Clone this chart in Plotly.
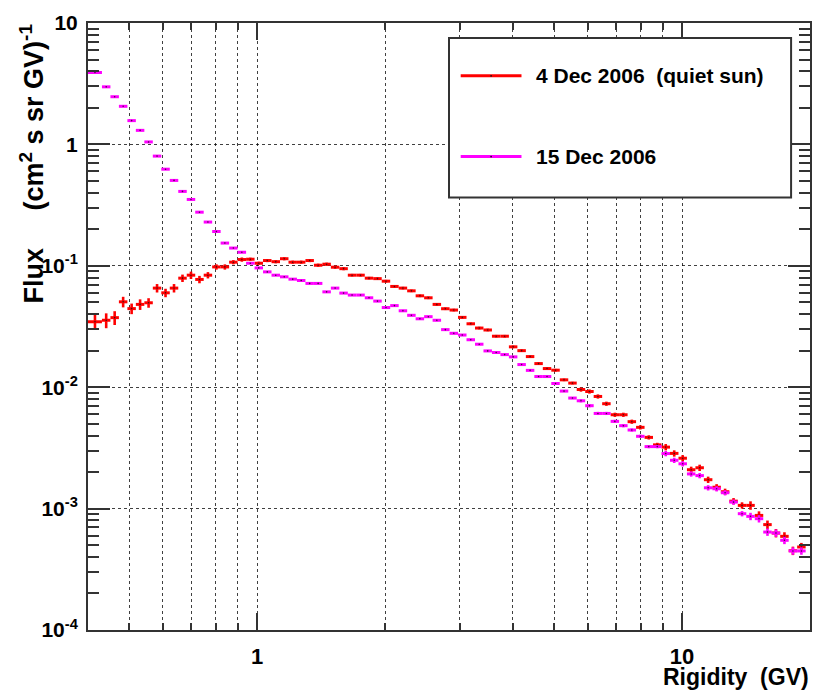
import math
import plotly.graph_objects as go

# ---------------- data ----------------
# rigidity bin edges (GV), first bin starts at the axis edge
RIGIDITY_EDGES_GV = [
    0.40, 0.4314, 0.4517, 0.4729, 0.4952, 0.5184, 0.5428, 0.5683, 0.5950, 0.6230,
    0.6523, 0.6830, 0.7151, 0.7487, 0.7839, 0.8207, 0.8593, 0.8997, 0.9420, 0.9863,
    1.0326, 1.0812, 1.1320, 1.1852, 1.2409, 1.2993, 1.3603, 1.4243, 1.4912, 1.5614,
    1.6347, 1.7116, 1.7920, 1.8763, 1.9645, 2.0569, 2.1535, 2.2547, 2.3607, 2.4717,
    2.5880, 2.7096, 2.8370, 2.9703, 3.1099, 3.2561, 3.4092, 3.5695, 3.7373, 3.9129,
    4.0968, 4.2894, 4.4911, 4.7022, 4.9232, 5.1546, 5.3970, 5.6506, 5.9163, 6.1944,
    6.4855, 6.7905, 7.1097, 7.4438, 7.7938, 8.1602, 8.5437, 8.9454, 9.3658, 9.8062,
    10.267, 10.750, 11.255, 11.785, 12.338, 12.918, 13.525, 14.161, 14.827, 15.524,
    16.253, 17.018, 17.818, 18.656, 19.533,
]

# flux (cm^2 s sr GV)^-1, 4 Dec 2006 (quiet sun)
FLUX_4DEC2006 = [
    0.0346, 0.0356, 0.0374, 0.0505, 0.0444, 0.0481, 0.0496, 0.0655, 0.0599, 0.0655,
    0.0791, 0.0837, 0.0772, 0.0837, 0.0979, 0.0979, 0.1071, 0.1126, 0.1133, 0.1050,
    0.1105, 0.1081, 0.1144, 0.1071, 0.1071, 0.1105, 0.1011, 0.1031, 0.0974, 0.0947,
    0.0837, 0.0837, 0.0791, 0.0784, 0.0747, 0.0676, 0.0655, 0.0622, 0.0566, 0.0545,
    0.0481, 0.0443, 0.0432, 0.0376, 0.0333, 0.0307, 0.0296, 0.0263, 0.0263, 0.0215,
    0.0200, 0.01787, 0.01565, 0.01424, 0.01381, 0.01150, 0.01081, 0.00957, 0.00922, 0.00839,
    0.00731, 0.00593, 0.00593, 0.00520, 0.00467, 0.00386, 0.00335, 0.00321, 0.00285, 0.00260,
    0.00209, 0.00217, 0.00173, 0.00150, 0.001377, 0.001152, 0.001063, 0.001063, 0.000879, 0.000738,
    0.000629, 0.000591, 0.000450, 0.000483,
]

# flux (cm^2 s sr GV)^-1, 15 Dec 2006
FLUX_15DEC2006 = [
    3.91, 2.98, 2.47, 2.06, 1.57, 1.305, 1.048, 0.801, 0.625, 0.505,
    0.410, 0.352, 0.2765, 0.2293, 0.1916, 0.1539, 0.140, 0.1293, 0.1050, 0.0961,
    0.0891, 0.0837, 0.0811, 0.0776, 0.0757, 0.0716, 0.0716, 0.0610, 0.0655, 0.0596,
    0.0574, 0.0574, 0.0545, 0.0512, 0.0453, 0.0470, 0.0426, 0.0391, 0.0366, 0.0381,
    0.0356, 0.0298, 0.0278, 0.0269, 0.0246, 0.0226, 0.0199, 0.0193, 0.01855, 0.01777,
    0.01536, 0.01376, 0.01224, 0.01224, 0.01073, 0.00929, 0.00814, 0.00773, 0.00704, 0.00608,
    0.00608, 0.00523, 0.00482, 0.00444, 0.00394, 0.00324, 0.00324, 0.00284, 0.00250, 0.00234,
    0.00193, 0.00187, 0.001484, 0.001457, 0.001351, 0.001131, 0.000908, 0.000863, 0.000826, 0.000641,
    0.000629, 0.000548, 0.000448, 0.000448,
]

# relative statistical errors (%)
ERR_PCT_4DEC2006 = (
    [14, 14, 13] + [10, 10, 10, 9] + [8, 8, 8] + [7, 7, 7, 6] + [5, 5, 4, 4]
    + [3] * 12 + [2.5] * 12 + [2.5] * 15 + [4] * 10 + [6] * 10 + [8] * 7
)
ERR_PCT_15DEC2006 = [1] * 32 + [2] * 25 + [3] * 10 + [5] * 10 + [7] * 7

SERIES_NAMES = ["4 Dec 2006\u00a0\u00a0(quiet sun)", "15 Dec 2006"]
SERIES_COLORS = ["#ff0000", "#ff00ff"]

X_TICK_VALUES = [1, 10]
X_TICK_LABELS = ["1", "10"]
X_MINOR_VALUES = [0.5, 0.6, 0.7, 0.8, 0.9, 2, 3, 4, 5, 6, 7, 8, 9]
Y_TICK_VALUES = [1e-4, 1e-3, 1e-2, 1e-1, 1, 10]
Y_TICK_LABELS = ["10<sup>-4</sup>", "10<sup>-3</sup>", "10<sup>-2</sup>",
                 "10<sup>-1</sup>", "1", "10"]
Y_MINOR_VALUES = [m * 10.0 ** e for e in range(-4, 1) for m in range(2, 10)]

X_RANGE = [0.4, 20.0]
Y_RANGE = [1e-4, 10.0]

# ---------------- figure ----------------
lo = RIGIDITY_EDGES_GV[:-1]
hi = RIGIDITY_EDGES_GV[1:]
centers = [math.sqrt(a * b) for a, b in zip(lo, hi)]
err_plus = [b - c for b, c in zip(hi, centers)]
err_minus = [c - a for a, c in zip(lo, centers)]

FONT = "Liberation Sans, Arial, Helvetica, sans-serif"
AX = "#333333"
GRID = "rgba(0,0,0,0.75)"

fig = go.Figure()
for flux, errp, color, name in [
    (FLUX_4DEC2006, ERR_PCT_4DEC2006, SERIES_COLORS[0], SERIES_NAMES[0]),
    (FLUX_15DEC2006, ERR_PCT_15DEC2006, SERIES_COLORS[1], SERIES_NAMES[1]),
]:
    fig.add_trace(go.Scatter(
        x=centers, y=flux, mode="markers", name=name,
        marker=dict(size=1.6, color="rgba(20,20,20,0.8)", symbol="circle"),
        error_x=dict(type="data", symmetric=False, array=err_plus,
                     arrayminus=err_minus, width=0, thickness=3, color=color),
        error_y=dict(type="data", array=[f * p / 100.0 for f, p in zip(flux, errp)],
                     width=0, thickness=2.6, color=color),
        cliponaxis=True,
    ))

fig.update_layout(
    width=823, height=697,
    margin=dict(l=88, r=11, t=21, b=67),
    paper_bgcolor="white", plot_bgcolor="white",
    showlegend=False,
    font=dict(family=FONT, size=21, color="black"),
)

fig.update_xaxes(
    type="log", range=[math.log10(X_RANGE[0]), math.log10(X_RANGE[1])],
    tickmode="array", tickvals=X_TICK_VALUES, ticktext=X_TICK_LABELS,
    ticks="inside", ticklen=17, tickwidth=2, tickcolor=AX,
    showline=True, linewidth=2, linecolor=AX, mirror="ticks",
    showgrid=True, gridcolor=GRID, griddash="dot", gridwidth=1,
    zeroline=False, ticklabelstandoff=6,
    tickfont=dict(family=FONT, size=22, color="black", weight="bold"),
    minor=dict(tickmode="array", tickvals=X_MINOR_VALUES, ticks="inside",
               ticklen=7, tickwidth=2, tickcolor=AX,
               showgrid=True, gridcolor=GRID, griddash="dot", gridwidth=1),
)
fig.update_yaxes(
    type="log", range=[math.log10(Y_RANGE[0]), math.log10(Y_RANGE[1])],
    tickmode="array", tickvals=Y_TICK_VALUES, ticktext=Y_TICK_LABELS,
    ticks="inside", ticklen=22, tickwidth=2, tickcolor=AX,
    showline=True, linewidth=2, linecolor=AX, mirror="ticks",
    showgrid=True, gridcolor=GRID, griddash="dot", gridwidth=1,
    zeroline=False, ticklabelstandoff=4,
    tickfont=dict(family=FONT, size=21, color="black", weight="bold"),
    minor=dict(tickmode="array", tickvals=Y_MINOR_VALUES, ticks="inside",
               ticklen=11, tickwidth=2, tickcolor=AX, showgrid=False),
)

# axis titles (ROOT style: right/top aligned)
fig.add_annotation(
    text="Rigidity\u00a0\u00a0(GV)", xref="paper", yref="paper",
    x=1.002, y=-0.077, xanchor="right", yanchor="middle", showarrow=False,
    font=dict(family=FONT, size=23, color="black", weight="bold"),
)
fig.add_annotation(
    text="Flux\u00a0\u00a0\u00a0\u00a0\u00a0(cm<sup>2</sup> s sr GV)<sup>-1</sup>",
    xref="paper", yref="paper", x=-0.078, y=0.768,
    xanchor="center", yanchor="middle", textangle=-90, showarrow=False,
    font=dict(family=FONT, size=27, color="black", weight="bold"),
)

# legend box (drawn manually in paper coordinates)
fig.add_shape(type="rect", xref="paper", yref="paper",
              x0=0.5, x1=0.9738, y0=0.7126, y1=0.9754,
              line=dict(color=AX, width=2), fillcolor="white", layer="above")
for ypos, color, name in [(0.913, SERIES_COLORS[0], SERIES_NAMES[0]),
                          (0.780, SERIES_COLORS[1], SERIES_NAMES[1])]:
    fig.add_shape(type="line", xref="paper", yref="paper",
                  x0=0.5162, x1=0.6004, y0=ypos, y1=ypos,
                  line=dict(color=color, width=3), layer="above")
    fig.add_shape(type="circle", xref="paper", yref="paper",
                  x0=0.5583 - 0.0012, x1=0.5583 + 0.0012,
                  y0=ypos - 0.0015, y1=ypos + 0.0015,
                  line=dict(color="#111111", width=0), fillcolor="#111111",
                  layer="above")
    fig.add_annotation(text=name, xref="paper", yref="paper",
                       x=0.6174, y=ypos, xanchor="left", yanchor="middle",
                       showarrow=False,
                       font=dict(family=FONT, size=21, color="black", weight="bold"))

fig.write_html("out.html", config={"displayModeBar": False})
